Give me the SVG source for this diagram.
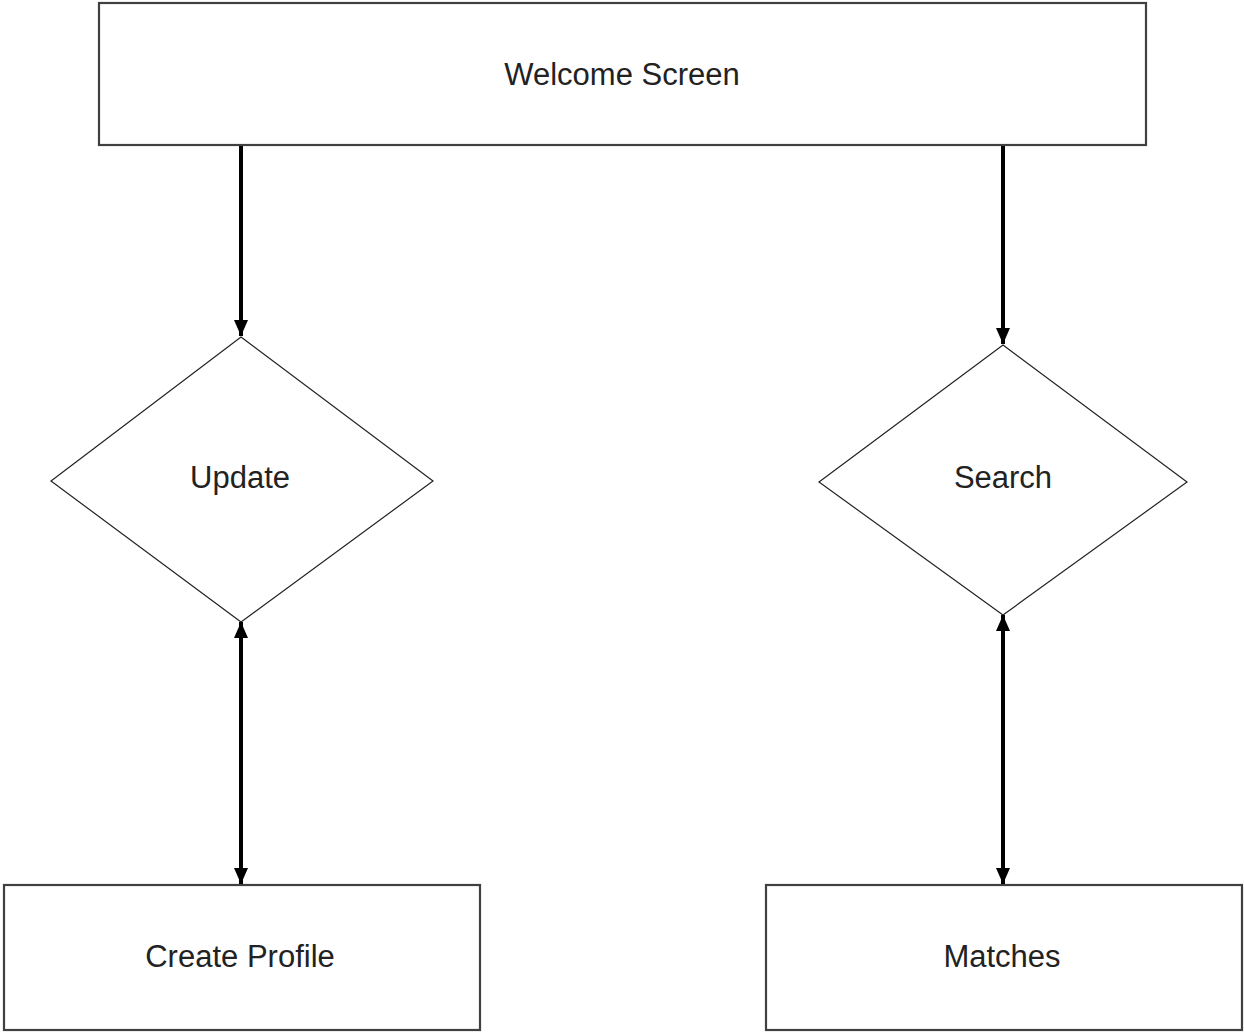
<svg xmlns="http://www.w3.org/2000/svg" width="1244" height="1032" viewBox="0 0 1244 1032">
<defs>
<style>
.box{fill:#fff;stroke:#404040;stroke-width:2.2}
.dia{fill:#fff;stroke:#222;stroke-width:1.2}
.lbl{font-family:"Liberation Sans",Arial,sans-serif;font-size:31px;fill:#222;text-anchor:middle}
.con{stroke:#000;stroke-width:4;fill:none}
</style>
<marker id="ah" viewBox="0 0 16 14" refX="16" refY="7" markerWidth="16" markerHeight="14" markerUnits="userSpaceOnUse" orient="auto-start-reverse">
<path d="M0,0 L16,7 L0,14 Z" fill="#000"/>
</marker>
</defs>
<rect width="1244" height="1032" fill="#fff"/>
<g id="welcome">
<rect class="box" x="99" y="3" width="1047" height="142"/>
<text class="lbl" x="622" y="85">Welcome Screen</text>
</g>
<g id="update">
<polygon class="dia" points="241,337 433,481 241,622 51,481"/>
<text class="lbl" x="240" y="488">Update</text>
</g>
<g id="search">
<polygon class="dia" points="1003,345 1187,482 1003,615 819,482"/>
<text class="lbl" x="1003" y="488">Search</text>
</g>
<g id="create-profile">
<rect class="box" x="4" y="885" width="476" height="145"/>
<text class="lbl" x="240" y="967">Create Profile</text>
</g>
<g id="matches">
<rect class="box" x="766" y="885" width="476" height="145"/>
<text class="lbl" x="1002" y="967">Matches</text>
</g>
<g id="connectors">
<line class="con" x1="241" y1="146" x2="241" y2="336" marker-end="url(#ah)"/>
<line class="con" x1="1003" y1="146" x2="1003" y2="344" marker-end="url(#ah)"/>
<line class="con" x1="241" y1="622" x2="241" y2="884" marker-start="url(#ah)" marker-end="url(#ah)"/>
<line class="con" x1="1003" y1="615" x2="1003" y2="884" marker-start="url(#ah)" marker-end="url(#ah)"/>
</g>
</svg>
